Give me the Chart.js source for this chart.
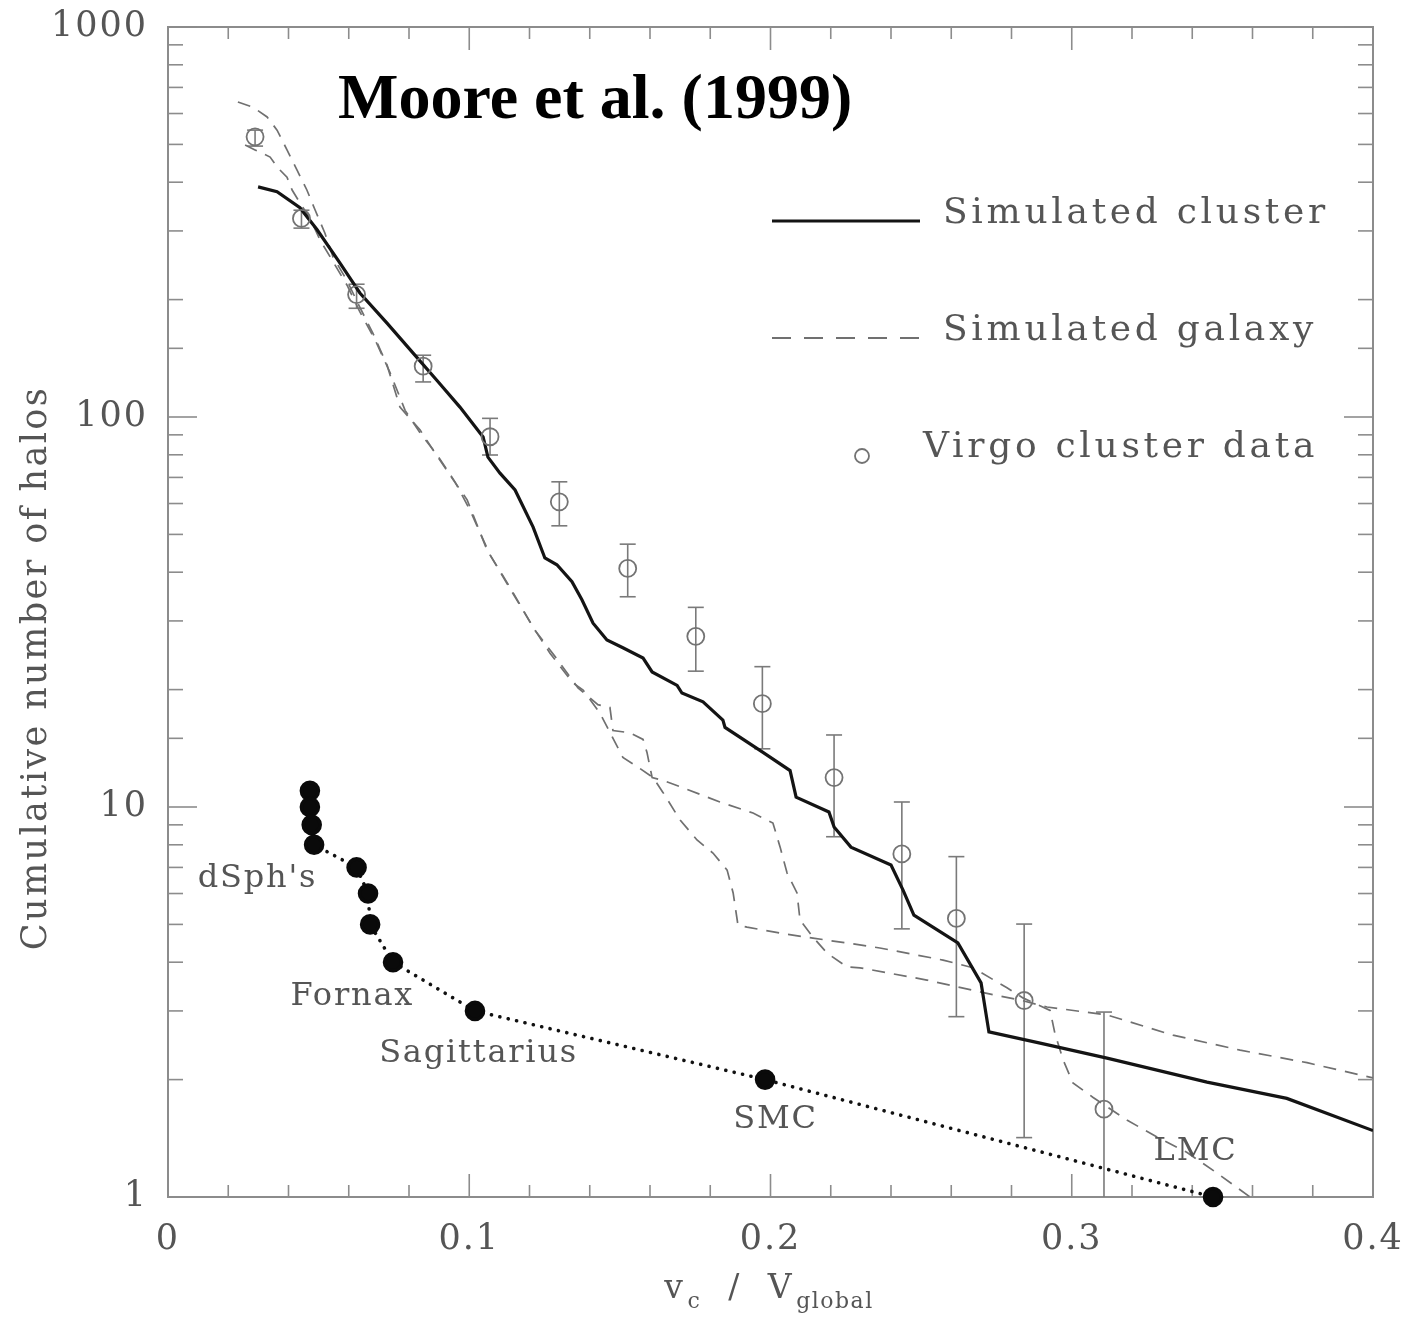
<!DOCTYPE html>
<html>
<head>
<meta charset="utf-8">
<script src="https://cdn.jsdelivr.net/npm/chart.js@4.4.0/dist/chart.umd.min.js"></script>
<style>
  body { margin: 0; background: #fff; }
  #wrap { width: 1404px; height: 1318px; }
</style>
</head>
<body>
<div id="wrap"><canvas id="halos"></canvas></div>
<script>
// simulated cluster, solid
const clusterV = [0.0299, 0.0362, 0.0438, 0.0495, 0.0571, 0.0637, 0.0727, 0.0813, 0.0893, 0.0969,
  0.1046, 0.1062, 0.1102, 0.1152, 0.1212, 0.1251, 0.1291, 0.1341, 0.1374, 0.1411,
  0.1457, 0.1510, 0.1577, 0.1607, 0.1690, 0.1706, 0.1776, 0.1842, 0.1849, 0.1975,
  0.2065, 0.2085, 0.2194, 0.2211, 0.2267, 0.2400, 0.2440, 0.2476, 0.2622, 0.2699,
  0.2725, 0.2895, 0.3117, 0.3449, 0.3714, 0.4000];
const clusterN = [389, 378, 344, 302, 248, 208, 174, 146, 124, 106,
  88.9, 78.9, 71.8, 65.0, 52.2, 43.5, 41.8, 37.8, 34.0, 29.6,
  26.8, 25.6, 24.1, 22.2, 20.5, 19.6, 18.6, 16.7, 16.0, 13.8,
  12.4, 10.6, 9.71, 8.89, 7.89, 7.10, 6.12, 5.28, 4.48, 3.54,
  2.65, 2.48, 2.27, 1.97, 1.79, 1.48];

// simulated galaxies, dashed (two halos)
const galaxyAV = [0.0232, 0.0282, 0.0329, 0.0362, 0.0395, 0.0428, 0.0461, 0.0488, 0.0521, 0.0548,
  0.0594, 0.0637, 0.0680, 0.0727, 0.0770, 0.0837, 0.0880, 0.0936, 0.0993, 0.1059,
  0.1135, 0.1212, 0.1268, 0.1344, 0.1378, 0.1434, 0.1510, 0.1557, 0.1610, 0.1643,
  0.1700, 0.1756, 0.1809, 0.1856, 0.1876, 0.1892, 0.1922, 0.2032, 0.2141, 0.2254,
  0.2363, 0.2573, 0.2672, 0.2785, 0.2838, 0.2928, 0.2944, 0.2971, 0.3004, 0.3071,
  0.3183, 0.3283, 0.3383, 0.3482, 0.3592];
const galaxyAN = [642, 623, 588, 544, 484, 430, 382, 340, 296, 257,
  224, 191, 164, 136, 106, 92.6, 82.3, 71.0, 61.3, 45.6,
  36.6, 28.9, 24.8, 20.8, 19.95, 17.4, 13.4, 12.7, 11.9, 10.9,
  9.26, 8.23, 7.62, 6.89, 6.02, 4.98, 4.92, 4.75, 4.61, 4.48,
  4.35, 4.05, 3.87, 3.44, 3.24, 3.01, 2.63, 2.25, 1.96, 1.80,
  1.575, 1.425, 1.30, 1.152, 1.0];
const galaxyBV = [0.0256, 0.0289, 0.0339, 0.0365, 0.0395, 0.0412, 0.0438, 0.0471, 0.0505, 0.0548,
  0.0594, 0.0637, 0.0687, 0.0737, 0.0787, 0.0837, 0.0893, 0.0953, 0.1002, 0.1069,
  0.1142, 0.1218, 0.1285, 0.1361, 0.1427, 0.1467, 0.1477, 0.1534, 0.1577, 0.1590,
  0.1607, 0.1643, 0.1723, 0.1832, 0.1942, 0.2008, 0.2032, 0.2055, 0.2088, 0.2098,
  0.2141, 0.2188, 0.2254, 0.2297, 0.2519, 0.2739, 0.2828, 0.2918, 0.3117, 0.3336,
  0.3559, 0.3781, 0.4000];
const galaxyBN = [498, 484, 464, 435, 412, 382, 354, 324, 284, 250,
  218, 186, 158, 130, 104, 91, 80, 68.1, 57.8, 44.3,
  35.6, 28.4, 24.3, 20.2, 18.3, 18.0, 15.7, 15.5, 14.9, 13.8,
  11.9, 11.7, 11.1, 10.3, 9.65, 9.10, 7.89, 6.77, 6.02, 5.13,
  4.64, 4.22, 3.89, 3.87, 3.60, 3.30, 3.20, 3.07, 2.93, 2.60,
  2.38, 2.21, 2.02];

// Virgo cluster data with error bars
const virgoV  = [0.0289, 0.0443, 0.0626, 0.0847, 0.1069, 0.1299, 0.1526, 0.1752, 0.1973, 0.2211, 0.2436, 0.2617, 0.2842, 0.3107];
const virgoN  = [523, 323, 206, 135, 89.0, 60.6, 40.9, 27.4, 18.4, 11.9, 7.58, 5.18, 3.19, 1.68];
const virgoHi = [544, 339, 219, 144, 99.2, 68.2, 47.2, 32.5, 22.9, 15.3, 10.3, 7.46, 5.01, 2.98];
const virgoLo = [495, 305, 190, 123, 79.9, 52.6, 34.6, 22.3, 14.1, 8.39, 4.87, 2.90, 1.42, 1.0];

// Milky Way satellites (dotted)
const satV = [0.0471, 0.0471, 0.0477, 0.0485, 0.0626, 0.0664, 0.0671, 0.0747, 0.1019, 0.1982, 0.3469];
const satN = [11, 10, 9, 8, 7, 6, 5, 4, 3, 2, 1];

const xTickLabels = [0, 0.1, 0.2, 0.3, 0.4];
const yTickLabels = [1, 10, 100, 1000];

const INK = '#555';
const FRAME = '#8c8c8c';
const SERIF = '"DejaVu Serif", serif';

function pts(xs, ys) {
  return xs.map((x, i) => ({ x: x, y: ys[i] }));
}

function isTenth(v) {
  return xTickLabels.some(t => Math.abs(t - v) < 1e-6);
}

function spaced(ctx, text, x, y, font, spacing, color, align, baseline) {
  ctx.save();
  ctx.font = font;
  ctx.fillStyle = color;
  ctx.textAlign = align;
  ctx.textBaseline = baseline;
  ctx.letterSpacing = spacing + 'px';
  ctx.fillText(text, x, y);
  ctx.restore();
}

function seg(ctx, x0, y0, x1, y1) {
  ctx.beginPath();
  ctx.moveTo(x0, y0);
  ctx.lineTo(x1, y1);
  ctx.stroke();
}

function noOverflow(s) {
  s.paddingTop = 0;
  s.paddingBottom = 0;
  s.paddingLeft = 0;
  s.paddingRight = 0;
}

// frame with inward ticks on all four sides, error bars
const framePlugin = {
  id: 'frameTicks',
  beforeDraw(chart) {
    chart.ctx.letterSpacing = '2px';
  },
  beforeDatasetsDraw(chart) {
    const ctx = chart.ctx;
    const { left, right, top, bottom } = chart.chartArea;
    const x = chart.scales.x, y = chart.scales.y;
    ctx.save();
    ctx.strokeStyle = FRAME;
    ctx.lineWidth = 2;
    ctx.strokeRect(left, top, right - left, bottom - top);
    ctx.lineWidth = 1.6;
    x.ticks.forEach(t => {
      const px = x.getPixelForValue(t.value);
      const len = isTenth(t.value) ? 23 : 12;
      seg(ctx, px, bottom, px, bottom - len);
      seg(ctx, px, top, px, top + len);
    });
    y.ticks.forEach(t => {
      const py = y.getPixelForValue(t.value);
      const len = yTickLabels.includes(t.value) ? 29 : 15;
      seg(ctx, left, py, left + len, py);
      seg(ctx, right, py, right - len, py);
    });

    // error bars for Virgo
    ctx.strokeStyle = '#7a7a7a';
    ctx.lineWidth = 1.6;
    virgoV.forEach((v, i) => {
      const px = x.getPixelForValue(v);
      const yh = y.getPixelForValue(virgoHi[i]);
      const yl = y.getPixelForValue(virgoLo[i]);
      seg(ctx, px, yh, px, yl);
      seg(ctx, px - 8, yh, px + 8, yh);
      if (virgoLo[i] > 1) seg(ctx, px - 8, yl, px + 8, yl);
    });
    ctx.restore();
  },
  afterDatasetsDraw(chart) {
    const ctx = chart.ctx;
    const { left, right, top, bottom } = chart.chartArea;
    const x = chart.scales.x, y = chart.scales.y;
    const ds = chart.data.datasets;

    // title inside the plot
    spaced(ctx, 'Moore et al. (1999)', left + 170, top + 91,
      'bold 64px "Liberation Serif", "Times New Roman", serif', 0, '#000', 'left', 'alphabetic');

    // legend, upper right
    const lx0 = left + 604, lx1 = left + 752, tx = left + 775;
    const font = '36px ' + SERIF;
    ctx.save();
    ctx.strokeStyle = ds[0].borderColor;
    ctx.lineWidth = 3;
    seg(ctx, lx0, top + 194, lx1, top + 194);
    ctx.strokeStyle = ds[1].borderColor;
    ctx.lineWidth = 2;
    ctx.setLineDash([19, 13]);
    seg(ctx, lx0, top + 311, lx1, top + 311);
    ctx.setLineDash([]);
    ctx.strokeStyle = ds[3].borderColor;
    ctx.lineWidth = 1.8;
    ctx.beginPath();
    ctx.arc(left + 694, top + 429, 7, 0, Math.PI * 2);
    ctx.stroke();
    ctx.restore();
    spaced(ctx, ds[0].label, tx, top + 196, font, 3.7, INK, 'left', 'alphabetic');
    spaced(ctx, 'Simulated galaxy', tx, top + 313, font, 3.7, INK, 'left', 'alphabetic');
    spaced(ctx, ds[3].label, left + 755, top + 430, font, 3.7, INK, 'left', 'alphabetic');

    // satellite names
    const names = [
      { t: 'dSph\'s', v: 0.0297, n: 6.24 },
      { t: 'Fornax', v: 0.0612, n: 3.11 },
      { t: 'Sagittarius', v: 0.1031, n: 2.22 },
      { t: 'SMC', v: 0.2017, n: 1.503 },
      { t: 'LMC', v: 0.3411, n: 1.244 }
    ];
    names.forEach(a => {
      spaced(ctx, a.t, x.getPixelForValue(a.v), y.getPixelForValue(a.n),
        '32px ' + SERIF, 1.8, INK, 'center', 'alphabetic');
    });

    // y axis title
    ctx.save();
    ctx.translate(37, (top + bottom) / 2 + 56);
    ctx.rotate(-Math.PI / 2);
    spaced(ctx, 'Cumulative number of halos', 0, 0, '35px ' + SERIF, 2.4, INK, 'center', 'middle');
    ctx.restore();

    // x axis title with subscripts
    const parts = [
      { t: 'v', sub: false }, { t: 'c', sub: true }, { t: '  /  ', sub: false },
      { t: 'V', sub: false }, { t: 'global', sub: true }
    ];
    const fontOf = p => (p.sub ? '22px ' : '33px ') + SERIF;
    ctx.save();
    let total = 0;
    parts.forEach(p => {
      ctx.font = fontOf(p);
      ctx.letterSpacing = '1.5px';
      p.w = ctx.measureText(p.t).width;
      total += p.w + 3;
    });
    ctx.restore();
    let cx = (left + right) / 2 - total / 2;
    parts.forEach(p => {
      spaced(ctx, p.t, cx, p.sub ? 1308 : 1298, fontOf(p), 1.5, INK, 'left', 'alphabetic');
      cx += p.w + 3;
    });
  }
};

const ctx = document.getElementById('halos').getContext('2d');
new Chart(ctx, {
  type: 'scatter',
  data: {
    datasets: [{
      label: 'Simulated cluster',
      data: pts(clusterV, clusterN),
      showLine: true,
      borderColor: '#141414',
      borderWidth: 3.2,
      pointRadius: 0,
      order: 2
    }, {
      label: 'Simulated galaxy 1',
      data: pts(galaxyAV, galaxyAN),
      showLine: true,
      borderColor: '#707070',
      borderWidth: 1.7,
      borderDash: [13, 9],
      pointRadius: 0,
      order: 4
    }, {
      label: 'Simulated galaxy 2',
      data: pts(galaxyBV, galaxyBN),
      showLine: true,
      borderColor: '#707070',
      borderWidth: 1.7,
      borderDash: [13, 9],
      pointRadius: 0,
      order: 4
    }, {
      label: 'Virgo cluster data',
      data: pts(virgoV, virgoN),
      showLine: false,
      pointStyle: 'circle',
      pointRadius: 8.5,
      backgroundColor: 'rgba(0,0,0,0)',
      borderColor: '#737373',
      borderWidth: 1.8,
      order: 1
    }, {
      label: 'Milky Way satellites',
      data: pts(satV, satN),
      showLine: true,
      borderColor: '#111',
      borderWidth: 3.6,
      borderDash: [0.1, 8.5],
      borderCapStyle: 'round',
      pointRadius: 8.5,
      pointBackgroundColor: '#0a0a0a',
      pointBorderColor: '#0a0a0a',
      clip: false,
      order: 0
    }]
  },
  options: {
    responsive: true,
    maintainAspectRatio: false,
    animation: false,
    layout: { padding: { left: 0, top: 27, right: 31, bottom: 0 } },
    scales: {
      x: {
        type: 'linear',
        min: 0,
        max: 0.4,
        grid: { display: false },
        border: { display: false },
        ticks: {
          stepSize: 0.02,
          autoSkip: false,
          maxRotation: 0,
          padding: 14,
          color: INK,
          font: { family: SERIF, size: 35 },
          callback: v => isTenth(v) ? String(Math.round(v * 10) / 10) : ''
        },
        afterFit: s => { s.height = 121; noOverflow(s); }
      },
      y: {
        type: 'logarithmic',
        min: 1,
        max: 1000,
        grid: { display: false },
        border: { display: false },
        ticks: {
          autoSkip: false,
          padding: 12,
          color: INK,
          font: { family: SERIF, size: 35 },
          callback: v => yTickLabels.includes(v) ? String(v) : ''
        },
        afterFit: s => { s.width = 168; noOverflow(s); }
      }
    },
    plugins: {
      legend: { display: false },
      tooltip: { enabled: false }
    }
  },
  plugins: [framePlugin]
});
</script>
</body>
</html>
